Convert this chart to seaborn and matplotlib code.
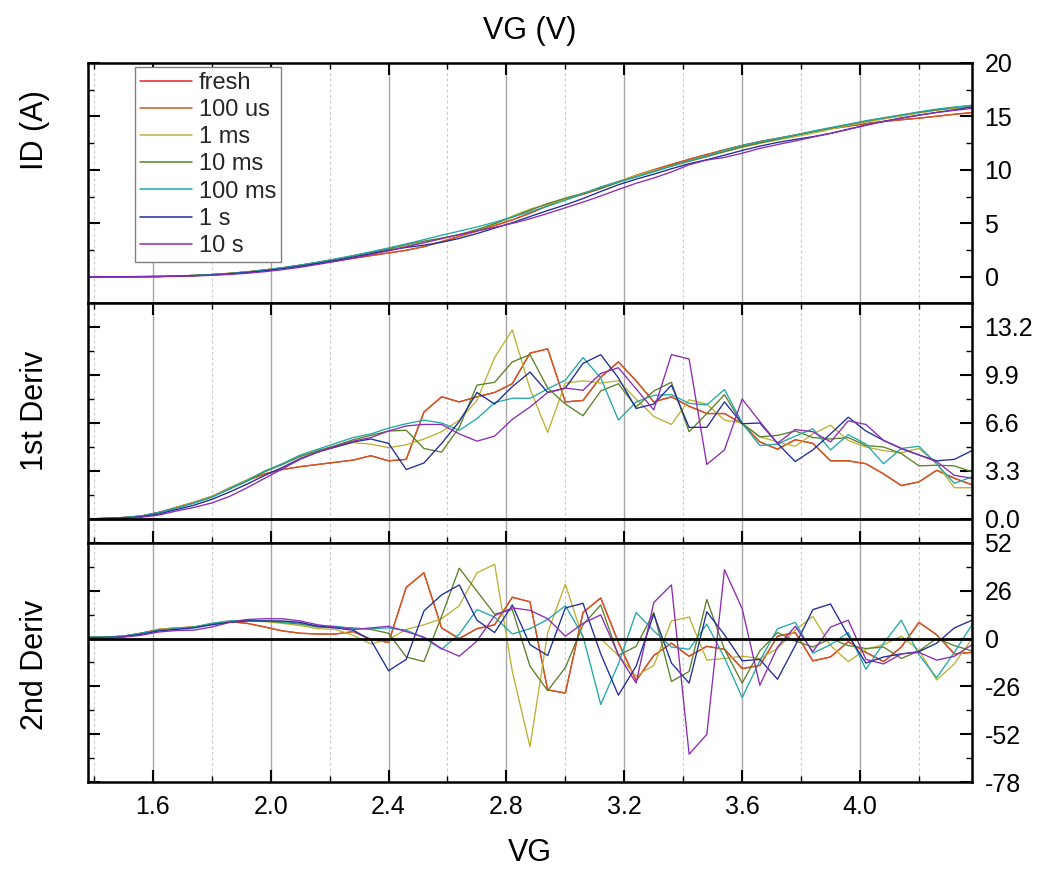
import numpy as np
import pandas as pd
import matplotlib
matplotlib.use('Agg')
import matplotlib.pyplot as plt
from matplotlib.lines import Line2D
from matplotlib.ticker import FixedLocator, MultipleLocator, FormatStrFormatter
import seaborn as sns

# ---------------- data ----------------
VG = [1.38, 1.44, 1.50, 1.56, 1.62, 1.68, 1.74, 1.80, 1.86, 1.92, 1.98, 2.04, 2.10,
      2.16, 2.22, 2.28, 2.34, 2.40, 2.46, 2.52, 2.58, 2.64, 2.70, 2.76, 2.82, 2.88,
      2.94, 3.00, 3.06, 3.12, 3.18, 3.24, 3.30, 3.36, 3.42, 3.48, 3.54, 3.60, 3.66,
      3.72, 3.78, 3.84, 3.90, 3.96, 4.02, 4.08, 4.14, 4.20, 4.26, 4.32, 4.38]

SERIES = ["fresh", "100 us", "1 ms", "10 ms", "100 ms", "1 s", "10 s"]
COLORS = ["#e4262a", "#d05a1e", "#bdb034", "#5b8128", "#22a8a8", "#1d2e9c", "#8c2bb4"]

# drain current ID (A)
ID_FRESH = [0, 0, 0.01, 0.02, 0.03, 0.07, 0.13, 0.21, 0.32, 0.46, 0.64, 0.83, 1.04, 1.26, 1.49, 1.73, 1.98,
            2.23, 2.48, 2.82, 3.29, 3.78, 4.28, 4.79, 5.33, 5.95, 6.65, 7.24, 7.72, 8.26, 8.88, 9.49, 10.01,
            10.51, 10.99, 11.44, 11.88, 12.29, 12.65, 12.95, 13.26, 13.58, 13.85, 14.09, 14.33, 14.53,
            14.69, 14.84, 15.02, 15.20, 15.36]
ID_100US = [0, 0, 0.01, 0.02, 0.03, 0.07, 0.13, 0.21, 0.32, 0.46, 0.64, 0.83, 1.04, 1.26, 1.49, 1.73, 1.98,
            2.23, 2.48, 2.82, 3.29, 3.78, 4.28, 4.79, 5.33, 5.95, 6.65, 7.24, 7.72, 8.26, 8.88, 9.49, 10.01,
            10.51, 10.99, 11.44, 11.88, 12.29, 12.65, 12.95, 13.26, 13.58, 13.85, 14.09, 14.33, 14.53,
            14.69, 14.84, 15.02, 15.20, 15.36]
ID_1MS = [0, 0, 0.01, 0.02, 0.03, 0.07, 0.13, 0.21, 0.32, 0.47, 0.65, 0.86, 1.10, 1.37, 1.66, 1.97, 2.28,
          2.58, 2.88, 3.20, 3.54, 3.93, 4.38, 4.95, 5.68, 6.33, 6.78, 7.24, 7.81, 8.37, 8.94, 9.47, 9.93,
          10.34, 10.78, 11.26, 11.70, 12.10, 12.47, 12.80, 13.11, 13.43, 13.80, 14.16, 14.47, 14.76,
          15.03, 15.32, 15.58, 15.75, 15.88]
ID_10MS = [0, 0, 0.01, 0.02, 0.03, 0.07, 0.13, 0.20, 0.31, 0.45, 0.63, 0.84, 1.08, 1.35, 1.64, 1.95, 2.29,
           2.64, 3.01, 3.34, 3.62, 3.95, 4.41, 4.97, 5.58, 6.24, 6.85, 7.36, 7.81, 8.28, 8.83, 9.34, 9.83,
           10.38, 10.84, 11.24, 11.71, 12.16, 12.53, 12.87, 13.23, 13.58, 13.91, 14.24, 14.56, 14.86,
           15.14, 15.39, 15.61, 15.83, 16.04]
ID_100MS = [0, 0, 0.01, 0.02, 0.03, 0.07, 0.13, 0.20, 0.31, 0.45, 0.63, 0.85, 1.09, 1.37, 1.67, 1.99, 2.34,
            2.70, 3.08, 3.48, 3.89, 4.27, 4.66, 5.10, 5.59, 6.09, 6.61, 7.16, 7.78, 8.41, 8.90, 9.35, 9.84,
            10.35, 10.85, 11.32, 11.83, 12.29, 12.64, 12.95, 13.27, 13.63, 13.96, 14.27, 14.60, 14.87,
            15.13, 15.43, 15.69, 15.88, 16.04]
ID_1S = [0, 0, 0, 0.01, 0.03, 0.06, 0.10, 0.17, 0.27, 0.40, 0.56, 0.75, 0.99, 1.25, 1.53, 1.84, 2.17,
         2.49, 2.75, 2.96, 3.23, 3.59, 4.05, 4.55, 5.06, 5.64, 6.20, 6.73, 7.32, 7.98, 8.61, 9.13, 9.60,
         10.11, 10.58, 10.95, 11.38, 11.82, 12.22, 12.57, 12.85, 13.11, 13.42, 13.81, 14.20, 14.54,
         14.85, 15.13, 15.38, 15.62, 15.89]
ID_10S = [0, 0, 0, 0.01, 0.02, 0.04, 0.08, 0.14, 0.22, 0.33, 0.48, 0.67, 0.89, 1.16, 1.44, 1.75, 2.08,
          2.43, 2.81, 3.19, 3.58, 3.95, 4.29, 4.62, 5.00, 5.43, 5.93, 6.46, 6.99, 7.56, 8.17, 8.75, 9.24,
          9.81, 10.48, 10.92, 11.17, 11.56, 12.01, 12.37, 12.71, 13.07, 13.41, 13.78, 14.17, 14.53,
          14.84, 15.11, 15.37, 15.57, 15.75]

# first derivative
D1_FRESH = [0, 0.05, 0.1, 0.2, 0.45, 0.8, 1.15, 1.55, 2.1, 2.65, 3.1, 3.4, 3.6, 3.75, 3.9, 4.05, 4.35, 4.0,
            4.1, 7.35, 8.4, 8.05, 8.4, 8.7, 9.3, 11.4, 11.7, 8.05, 8.15, 9.75, 10.8, 9.5, 8.05, 8.4, 7.75,
            7.25, 7.25, 6.55, 5.3, 4.8, 5.45, 5.2, 4.0, 4.0, 3.8, 3.1, 2.3, 2.55, 3.35, 2.8, 2.35]
D1_100US = [0, 0.05, 0.1, 0.2, 0.45, 0.8, 1.15, 1.55, 2.1, 2.65, 3.1, 3.4, 3.6, 3.75, 3.9, 4.05, 4.35, 4.0,
            4.1, 7.35, 8.4, 8.05, 8.4, 8.7, 9.3, 11.4, 11.7, 8.05, 8.15, 9.75, 10.8, 9.5, 8.05, 8.4, 7.75,
            7.25, 7.25, 6.55, 5.3, 4.8, 5.45, 5.2, 4.0, 4.0, 3.8, 3.1, 2.3, 2.55, 3.35, 2.8, 2.35]
D1_1MS = [0, 0.05, 0.1, 0.2, 0.45, 0.8, 1.15, 1.55, 2.15, 2.7, 3.3, 3.8, 4.3, 4.65, 4.95, 5.25, 5.15, 4.9,
          5.1, 5.5, 6.0, 6.8, 8.15, 11.1, 13.0, 8.95, 5.95, 9.35, 9.5, 9.35, 9.5, 8.25, 7.05, 6.5, 8.2,
          7.9, 6.8, 6.6, 5.65, 5.3, 5.0, 5.85, 6.45, 5.4, 4.95, 4.7, 4.55, 4.85, 3.8, 2.15, 2.15]
D1_10MS = [0, 0.05, 0.1, 0.2, 0.45, 0.75, 1.1, 1.5, 2.05, 2.6, 3.25, 3.75, 4.3, 4.7, 5.05, 5.45, 5.75, 6.05,
           6.1, 4.85, 4.6, 6.3, 9.2, 9.4, 10.8, 11.3, 9.0, 7.9, 7.1, 8.8, 9.3, 7.7, 8.8, 9.4, 6.0,
           7.25, 8.55, 6.55, 5.65, 5.75, 6.05, 5.6, 5.5, 5.6, 5.05, 4.95, 4.5, 3.65, 3.7, 3.65, 3.25]
D1_100MS = [0, 0.05, 0.1, 0.2, 0.45, 0.75, 1.1, 1.5, 2.1, 2.65, 3.3, 3.8, 4.4, 4.8, 5.2, 5.6, 5.85, 6.25,
            6.55, 6.8, 6.6, 6.1, 6.9, 8.0, 8.3, 8.3, 8.95, 9.55, 11.1, 9.7, 6.8, 8.05, 8.5, 8.55, 7.95,
            7.85, 8.9, 6.6, 5.05, 5.15, 5.7, 6.2, 4.75, 5.8, 5.15, 3.8, 4.85, 5.0, 3.8, 2.45, 2.9]
D1_1S = [0, 0.03, 0.07, 0.15, 0.35, 0.65, 0.95, 1.35, 1.85, 2.4, 3.0, 3.55, 4.15, 4.6, 4.95, 5.3, 5.5, 5.2,
         3.4, 3.85, 5.2, 6.7, 8.7, 7.9, 9.1, 10.1, 8.7, 9.0, 10.7, 11.3, 9.7, 7.6, 7.9, 9.2, 6.3,
         6.3, 8.05, 6.55, 6.6, 5.2, 3.95, 4.75, 5.85, 7.0, 6.05, 5.4, 4.85, 4.4, 4.0, 4.1, 4.7]
D1_10S = [0, 0.02, 0.05, 0.12, 0.27, 0.55, 0.8, 1.1, 1.55, 2.15, 2.8, 3.45, 4.1, 4.6, 5.0, 5.35, 5.6, 6.05,
          6.4, 6.5, 6.5, 5.85, 5.35, 5.7, 6.85, 7.7, 8.7, 9.0, 8.85, 10.0, 10.4, 8.95, 7.5, 11.3, 11.0,
          3.75, 4.75, 8.25, 6.7, 5.2, 6.15, 6.0, 5.3, 6.75, 6.5, 5.4, 4.85, 4.4, 3.95, 3.0, 2.8]

# second derivative
D2_FRESH = [0.8, 0.8, 1.3, 2.9, 5.0, 5.8, 6.3, 7.9, 9.2, 8.3, 6.3, 4.2, 2.9, 2.5, 2.5, 3.8, -0.4, -2.1,
            27.9, 35.8, 5.8, 0.0, 5.4, 7.5, 22.5, 20.0, -27.9, -29.6, 14.2, 22.1, -2.1, -22.9, -9.2, -2.5,
            -9.6, -4.2, -5.8, -16.3, -14.6, 1.3, 3.3, -12.1, -10.0, -1.7, -7.5, -12.5, -4.6, 8.8, 2.1,
            -8.3, -7.5]
D2_100US = [0.8, 0.8, 1.3, 2.9, 5.0, 5.8, 6.3, 7.9, 9.2, 8.3, 6.3, 4.2, 2.9, 2.5, 2.5, 3.8, -0.4, -2.1,
            27.9, 35.8, 5.8, 0.0, 5.4, 7.5, 22.5, 20.0, -27.9, -29.6, 14.2, 22.1, -2.1, -22.9, -9.2, -2.5,
            -9.6, -4.2, -5.8, -16.3, -14.6, 1.3, 3.3, -12.1, -10.0, -1.7, -7.5, -12.5, -4.6, 8.8, 2.1,
            -8.3, -7.5]
D2_1MS = [0.8, 0.8, 1.3, 2.9, 5.0, 5.8, 6.3, 8.3, 9.6, 9.6, 9.2, 8.3, 7.1, 5.4, 5.0, 1.7, -2.9, -0.4,
          5.0, 7.5, 10.8, 17.9, 35.8, 40.4, -17.9, -58.8, 3.3, 29.6, 0.0, 0.0, -9.2, -20.4, -14.6, 9.6,
          11.7, -11.7, -10.8, -9.6, -10.8, -5.4, 4.6, 12.1, -3.8, -12.5, -5.8, -3.3, 1.3, -6.3, -22.5,
          -13.8, 0.0]
D2_10MS = [0.8, 0.8, 1.3, 2.9, 4.6, 5.4, 6.3, 7.9, 9.2, 10.0, 9.6, 8.8, 7.9, 6.3, 6.3, 5.8, 5.0, 2.9,
           -10.0, -12.5, 12.1, 38.3, 25.8, 13.3, 15.8, -15.0, -28.3, -15.8, 7.5, 18.3, -9.2, -4.2, 14.2,
           -23.3, -17.9, 21.3, -5.8, -24.2, -6.7, 3.3, -1.3, -4.6, 0.0, -3.8, -5.4, -4.6, -10.8, -6.7,
           0.0, -3.8, -6.7]
D2_100MS = [0.8, 0.8, 1.3, 2.9, 4.6, 5.4, 6.3, 8.3, 9.6, 10.0, 9.6, 9.2, 8.3, 6.7, 6.7, 5.4, 5.4, 5.8,
            4.6, 0.4, -5.8, 2.5, 15.8, 11.7, 2.5, 5.4, 10.4, 17.9, 1.3, -35.8, -13.8, 14.2, 4.2, -4.6,
            -5.8, 7.9, -10.4, -32.1, -12.1, 5.4, 8.8, -7.9, -3.3, 3.3, -16.7, -2.5, 10.0, -8.8, -21.3,
            -7.5, 7.5]
D2_1S = [0.5, 0.6, 1.0, 2.3, 4.2, 5.0, 5.8, 7.5, 8.8, 9.6, 9.6, 9.6, 8.8, 6.7, 5.8, 4.6, -0.8, -17.5,
         -11.3, 15.0, 23.8, 29.2, 10.0, 3.3, 18.3, -3.3, -9.2, 16.7, 19.2, -8.3, -30.8, -15.0, 13.3,
         -13.3, -24.2, 14.6, 2.1, -12.1, -11.3, -22.1, -3.8, 15.8, 18.8, 1.7, -13.3, -10.0, -8.3, -7.1,
         -2.5, 5.8, 10.0]
D2_10S = [0.3, 0.4, 0.8, 1.8, 3.6, 4.4, 4.6, 6.3, 8.8, 10.4, 10.8, 10.8, 9.6, 7.5, 6.3, 5.0, 5.8, 6.7,
          3.8, 0.8, -5.4, -9.6, -1.3, 12.5, 16.7, 15.4, 10.8, 1.3, 8.3, 12.9, -8.8, -24.2, 19.6, 29.2,
          -62.9, -52.1, 37.5, 16.3, -25.4, -4.6, 6.7, -7.1, 6.3, 10.0, -11.3, -13.8, -8.3, -7.5, -11.7,
          -9.6, -3.3]

ID_ALL = [ID_FRESH, ID_100US, ID_1MS, ID_10MS, ID_100MS, ID_1S, ID_10S]
D1_ALL = [D1_FRESH, D1_100US, D1_1MS, D1_10MS, D1_100MS, D1_1S, D1_10S]
D2_ALL = [D2_FRESH, D2_100US, D2_1MS, D2_10MS, D2_100MS, D2_1S, D2_10S]

X_MAJOR = [1.6, 2.0, 2.4, 2.8, 3.2, 3.6, 4.0]
X_MINOR = [1.4, 1.8, 2.2, 2.6, 3.0, 3.4, 3.8, 4.2]

# ---------------- table ----------------
rows = []
for name, a_id, a_d1, a_d2 in zip(SERIES, ID_ALL, D1_ALL, D2_ALL):
    for x, i, d1, d2 in zip(VG, a_id, a_d1, a_d2):
        rows.append({"VG": x, "series": name, "ID": i, "D1": d1, "D2": d2})
df = pd.DataFrame(rows)

# ---------------- figure ----------------
sns.set_theme(style="white")
plt.rcParams['font.family'] = ['Liberation Sans', 'DejaVu Sans']

fig = plt.figure(figsize=(10.41, 8.69), dpi=100)
L, W = 88 / 1041, 884 / 1041
ax1 = fig.add_axes([L, 1 - 303 / 869, W, 240 / 869])
ax2 = fig.add_axes([L, 1 - 543 / 869, W, 240 / 869])
ax3 = fig.add_axes([L, 1 - 782 / 869, W, 239 / 869])

palette = dict(zip(SERIES, COLORS))
for ax, col in [(ax1, "ID"), (ax2, "D1"), (ax3, "D2")]:
    sns.lineplot(data=df, x="VG", y=col, hue="series", hue_order=SERIES, palette=palette,
                 ax=ax, linewidth=0.95, legend=False, estimator=None, sort=False)
    ax.set_xlim(1.38, 4.38)
    ax.xaxis.set_major_locator(FixedLocator(X_MAJOR))
    ax.xaxis.set_minor_locator(FixedLocator(X_MINOR))
    ax.xaxis.set_major_formatter(FormatStrFormatter('%.1f'))
    ax.set_axisbelow(True)
    ax.grid(which='major', axis='x', color='#a6a6a6', lw=1.0, ls='-')
    ax.grid(which='minor', axis='x', color='#c8c8c8', lw=0.8, ls=(0, (2.5, 2.5)))
    ax.grid(which='both', axis='y', visible=False)
    for s in ax.spines.values():
        s.set_color('black')
        s.set_linewidth(1.8)
    ax.tick_params(axis='both', which='major', direction='in', length=8.5, width=1.5, color='black')
    ax.tick_params(axis='both', which='minor', direction='in', length=4, width=1.0, color='black')
    ax.tick_params(axis='y', which='both', left=True, right=True, labelleft=False,
                   labelright=True, labelsize=18, pad=9, labelcolor='black')
    ax.set_xlabel("")

ax1.tick_params(axis='x', which='both', top=True, bottom=False, labelbottom=False)
ax2.tick_params(axis='x', which='both', top=True, bottom=True, labelbottom=False)
ax3.tick_params(axis='x', which='both', top=False, bottom=True, labelbottom=True,
                labelsize=18, pad=9, labelcolor='black')

ax1.set_ylim(-2.45, 20)
ax1.yaxis.set_major_locator(MultipleLocator(5))
ax1.yaxis.set_minor_locator(MultipleLocator(2.5))
ax1.yaxis.set_major_formatter(FormatStrFormatter('%d'))

ax2.set_ylim(-1.65, 14.85)
ax2.yaxis.set_major_locator(FixedLocator([0.0, 3.3, 6.6, 9.9, 13.2]))
ax2.yaxis.set_minor_locator(FixedLocator([1.65, 4.95, 8.25, 11.55, 14.85]))
ax2.yaxis.set_major_formatter(FormatStrFormatter('%.1f'))

ax3.set_ylim(-78, 52)
ax3.yaxis.set_major_locator(FixedLocator([-78, -52, -26, 0, 26, 52]))
ax3.yaxis.set_minor_locator(FixedLocator([-65, -39, -13, 13, 39]))
ax3.yaxis.set_major_formatter(FormatStrFormatter('%d'))

ax2.axhline(0, color='black', lw=2.0, zorder=3)
ax3.axhline(0, color='black', lw=2.0, zorder=3)

ax1.set_ylabel("ID (A)", fontsize=22, color='black')
ax2.set_ylabel("1st Deriv", fontsize=22, color='black')
ax3.set_ylabel("2nd Deriv", fontsize=22, color='black')
ax1.yaxis.set_label_coords(-0.043, 0.72)
ax2.yaxis.set_label_coords(-0.043, 0.55)
ax3.yaxis.set_label_coords(-0.043, 0.49)

ax1.xaxis.set_label_position('top')
ax1.set_xlabel("VG (V)", fontsize=22, labelpad=17, color='black')
ax3.set_xlabel("VG", fontsize=22, labelpad=14, color='black')

handles = [Line2D([0], [0], color=c, lw=1.1) for c in COLORS]
leg = ax1.legend(handles, SERIES, loc='upper left', bbox_to_anchor=(0.053, 0.983),
                 borderaxespad=0, frameon=True, fancybox=False, edgecolor='#808080',
                 framealpha=1, fontsize=17, handlelength=2.2, handletextpad=0.3,
                 labelspacing=0.22, borderpad=0.2)
leg.get_frame().set_linewidth(1.0)

fig.savefig("out.png", dpi=100)
